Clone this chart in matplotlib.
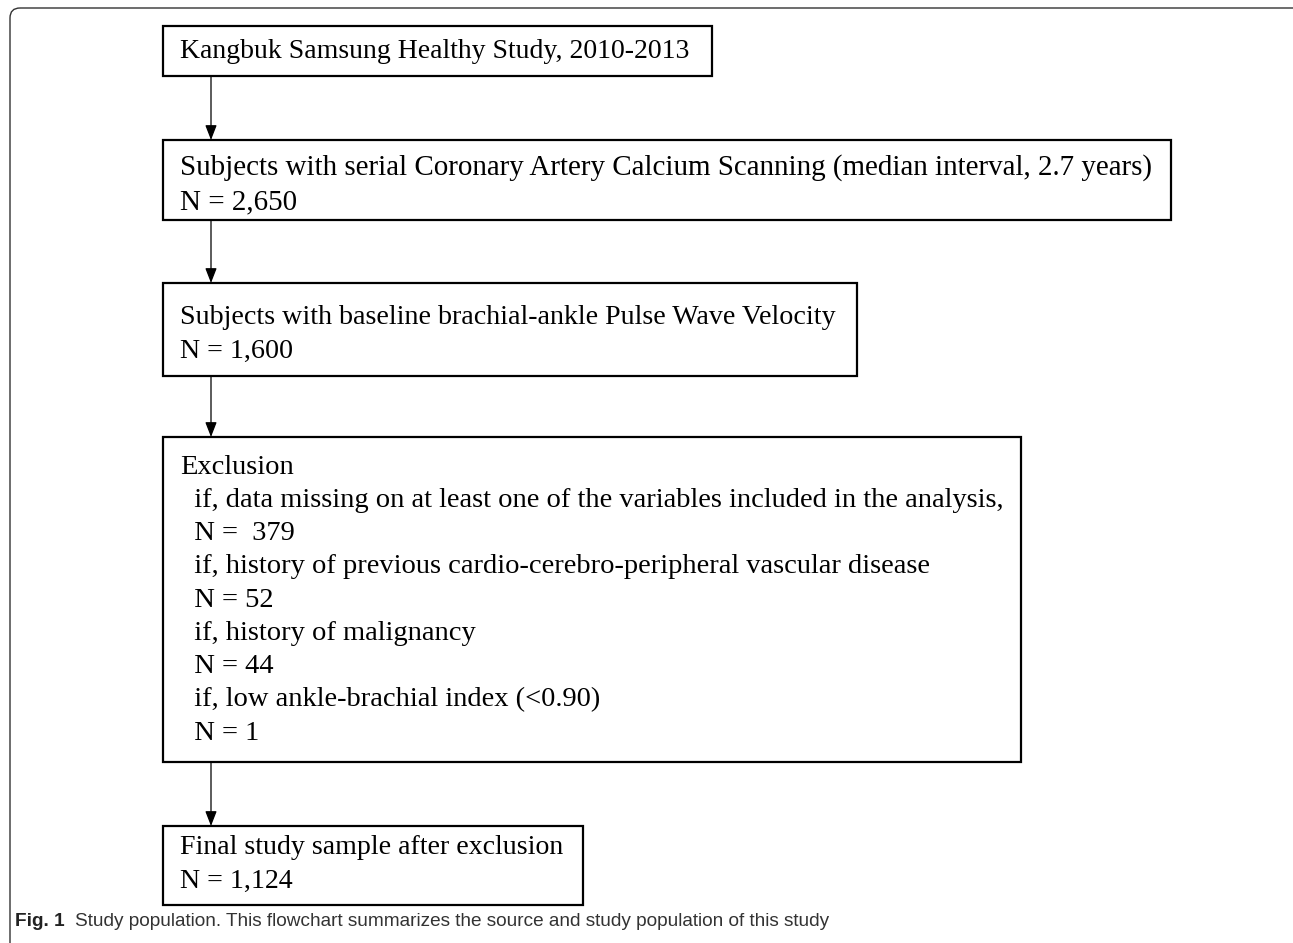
import matplotlib.pyplot as plt
from matplotlib.patches import FancyBboxPatch, Rectangle

# box texts, top to bottom
box_lines = [
    ["Kangbuk Samsung Healthy Study, 2010-2013"],
    ["Subjects with serial Coronary Artery Calcium Scanning (median interval, 2.7 years)",
     "N = 2,650"],
    ["Subjects with baseline brachial-ankle Pulse Wave Velocity",
     "N = 1,600"],
    ["Exclusion",
     "  if, data missing on at least one of the variables included in the analysis,",
     "  N =  379",
     "  if, history of previous cardio-cerebro-peripheral vascular disease",
     "  N = 52",
     "  if, history of malignancy",
     "  N = 44",
     "  if, low ankle-brachial index (<0.90)",
     "  N = 1"],
    ["Final study sample after exclusion",
     "N = 1,124"],
]
caption_bold = "Fig. 1"
caption_text = "Study population. This flowchart summarizes the source and study population of this study"

# layout in pixels: (left, top, right, bottom), first text line centre, font size
box_pos = [(163, 26, 712, 76), (163, 140, 1171, 220), (163, 283, 857, 376),
           (163, 437, 1021, 762), (163, 826, 583, 905)]
first_line_y = [52, 168, 318, 467, 847]
line_step = [0, 34, 33, 33.3, 34]
box_fs = [20.0, 20.9, 20.2, 20.5, 20.1]

plt.rcParams['font.family'] = ['Liberation Serif', 'DejaVu Serif']
fig = plt.figure(figsize=(12.93, 9.43), dpi=100)
ax = fig.add_axes([0, 0, 1, 1])
ax.set_xlim(0, 1293)
ax.set_ylim(943, 0)
ax.axis('off')

# outer frame: top and left edges, rounded corner
frame = FancyBboxPatch((10, 8), 1300, 1000, boxstyle="round,pad=0,rounding_size=10",
                       fill=False, lw=1.0, ec='#333333')
ax.add_patch(frame)

for i, lines in enumerate(box_lines):
    x0, y0, x1, y1 = box_pos[i]
    ax.add_patch(Rectangle((x0, y0), x1 - x0, y1 - y0, fill=False, lw=1.6, ec='black'))
    for j, t in enumerate(lines):
        ax.text(x0 + 17, first_line_y[i] + j * line_step[i], t, fontsize=box_fs[i],
                va='center', ha='left', color='black')
    if i < len(box_lines) - 1:
        ax.annotate("", xy=(211, box_pos[i + 1][1]), xytext=(211, y1),
                    arrowprops=dict(arrowstyle='-|>,head_length=0.9,head_width=0.35',
                                    lw=0.9, color='black', shrinkA=0, shrinkB=0))

cap_font = ['Liberation Sans Narrow', 'Liberation Sans', 'DejaVu Sans']
b = ax.text(15, 922, caption_bold, fontsize=13.7, fontweight='bold', va='center',
            ha='left', family=cap_font, color='#222222')
fig.canvas.draw()
bb = b.get_window_extent()
xend = ax.transData.inverted().transform((bb.x1, bb.y0))[0]
ax.text(xend + 10, 922, caption_text, fontsize=13.7, va='center', ha='left',
        family=cap_font, color='#333333')

fig.savefig('out.png', dpi=100)
